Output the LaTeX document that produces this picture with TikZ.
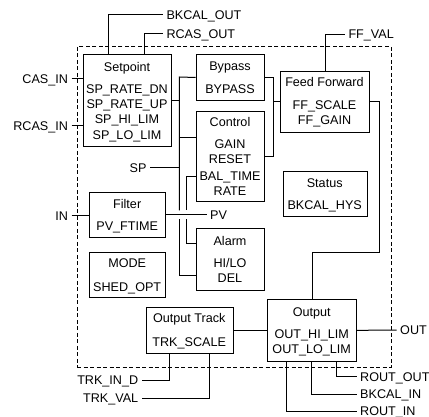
\documentclass[tikz,border=0pt]{standalone}
\usepackage{fontspec}
\setmainfont{Liberation Sans}
\newcommand\fsz{\fontsize{12.6}{15}\selectfont}
\tikzset{
  blk/.style={draw, line width=1pt, anchor=north west, inner sep=0pt},
  txt/.style={inner sep=0pt, text height=9pt, text depth=0pt, font=\fsz},
  lbl/.style={inner sep=0pt, outer xsep=3.5pt, text height=9pt, text depth=0pt, font=\fsz},
  wire/.style={line width=1pt}
}
\begin{document}
\begin{tikzpicture}[x=1pt,y=-1pt]
\useasboundingbox (0,0) rectangle (429,417);
% border
\node[draw, line width=1pt, dash pattern=on 4pt off 2.5pt, anchor=north west, inner sep=0pt,
  minimum width=314pt, minimum height=320.7pt] (border) at (76.7,46) {};
% blocks
\node[blk, minimum width=88.6pt, minimum height=92pt] (sp) at (82.7,54) {};
\node[blk, minimum width=68.6pt, minimum height=46pt] (bp) at (195.7,54) {};
\node[blk, minimum width=68.6pt, minimum height=90pt] (ctl) at (195.7,110.7) {};
\node[blk, minimum width=89pt, minimum height=61.6pt] (ff) at (280,70.7) {};
\node[blk, minimum width=84pt, minimum height=45pt] (st) at (282.7,170.7) {};
\node[blk, minimum width=75.7pt, minimum height=45pt] (fil) at (89.3,192.3) {};
\node[blk, minimum width=68.6pt, minimum height=61.7pt] (alm) at (195.7,228.3) {};
\node[blk, minimum width=75.7pt, minimum height=45pt] (mode) at (89.3,251.7) {};
\node[blk, minimum width=87pt, minimum height=46pt] (ot) at (145.7,306.7) {};
\node[blk, minimum width=88.7pt, minimum height=61.7pt] (out) at (267.3,299) {};
% block texts
\node[txt] (sp1) at (127,67) {Setpoint};
\node[txt] (sp2) at (127,89) {SP\_RATE\_DN};
\node[txt] (sp3) at (127,104) {SP\_RATE\_UP};
\node[txt] (sp4) at (127,119) {SP\_HI\_LIM};
\node[txt] (sp5) at (127,135) {SP\_LO\_LIM};
\node[txt] (bp1) at (230,65.7) {Bypass};
\node[txt] (bp2) at (230,89) {BYPASS};
\node[txt] (ct1) at (230,121.7) {Control};
\node[txt] (ct2) at (230,144) {GAIN};
\node[txt] (ct3) at (230,159) {RESET};
\node[txt] (ct4) at (230,175.7) {BAL\_TIME};
\node[txt] (ct5) at (230,191) {RATE};
\node[txt] (ff1) at (324.5,81.7) {Feed Forward};
\node[txt] (ff2) at (324.5,105.3) {FF\_SCALE};
\node[txt] (ff3) at (324.5,120) {FF\_GAIN};
\node[txt] (st1) at (324.7,182.7) {Status};
\node[txt] (st2) at (324.7,205) {BKCAL\_HYS};
\node[txt] (fi1) at (127.2,204.3) {Filter};
\node[txt] (fi2) at (127.2,225.7) {PV\_FTIME};
\node[txt] (al1) at (230,240.7) {Alarm};
\node[txt] (al2) at (230,263.3) {HI/LO};
\node[txt] (al3) at (230,278.3) {DEL};
\node[txt] (mo1) at (127.2,262.7) {MODE};
\node[txt] (mo2) at (127.2,286.7) {SHED\_OPT};
\node[txt] (ot1) at (189.2,318.3) {Output Track};
\node[txt] (ot2) at (189.2,341.7) {TRK\_SCALE};
\node[txt] (ou1) at (311.7,311.7) {Output};
\node[txt] (ou2) at (311.7,334) {OUT\_HI\_LIM};
\node[txt] (ou3) at (311.7,349) {OUT\_LO\_LIM};
% outside labels
\node[lbl, anchor=west] (bkcalout) at (163,15) {BKCAL\_OUT};
\node[lbl, anchor=west] (rcasout) at (163,34) {RCAS\_OUT};
\node[lbl, anchor=west] (ffval) at (345,34.3) {FF\_VAL};
\node[lbl, anchor=east] (casin) at (71.5,79) {CAS\_IN};
\node[lbl, anchor=east] (rcasin) at (71.5,126) {RCAS\_IN};
\node[lbl, anchor=east] (spl) at (150,168) {SP};
\node[lbl, anchor=east] (inl) at (71.5,215.7) {IN};
\node[lbl, anchor=west] (pvl) at (206.7,215) {PV};
\node[lbl, anchor=west] (outl) at (396.7,330) {OUT};
\node[lbl, anchor=west] (routout) at (356.7,376.7) {ROUT\_OUT};
\node[lbl, anchor=west] (bkcalin) at (356.7,394) {BKCAL\_IN};
\node[lbl, anchor=west] (routin) at (356.7,411) {ROUT\_IN};
\node[lbl, anchor=east] (trkind) at (141.7,380) {TRK\_IN\_D};
\node[lbl, anchor=east] (trkval) at (141.7,398.3) {TRK\_VAL};
% bus coordinates
\coordinate (a1) at (179.3,77);
\coordinate (a2) at (179.3,210.5);
\coordinate (a3) at (179.3,219.5);
\coordinate (b1) at (186.7,210.5);
\coordinate (b2) at (186.7,219.5);
\coordinate (c1) at ([yshift=19pt]ctl.west);
\coordinate (c2) at ([yshift=-20pt]ctl.west);
\coordinate (d1) at ([yshift=15.7pt]alm.west);
\coordinate (d2) at ([yshift=-16pt]alm.west);
\coordinate (k1) at (379,252.3);
% connectors
\draw[wire] ([xshift=25.3pt]sp.north west) |- (bkcalout.west);
\draw[wire] ([xshift=61.3pt]sp.north west) |- (rcasout.west);
\draw[wire] ([xshift=45pt]ff.north west) |- (ffval.west);
\draw[wire] (casin.east) -- (casin.east -| sp.west);
\draw[wire] (rcasin.east) -- (rcasin.east -| sp.west);
\draw[wire] (inl.east) -- (inl.east -| fil.west);
\draw[wire] (fil.east |- pvl.west) -- (pvl.west);
\draw[wire] (bp.west) -- (a1) -- (a2);
\draw[wire] (a3) |- (d2);
\draw[wire] (sp.east) -- (sp.east -| a1);
\draw[wire] (c1) -- (c1 -| a1);
\draw[wire] (spl.east) -- (spl.east -| a1);
\draw[wire] (c2) -| (b1);
\draw[wire] (b2) |- (d1);
\draw[wire] (bp.east) -- ++(8.4,0) |- (ctl.east);
\draw[wire] (ff.west) -- ++(-7.3,0);
\draw[wire] (ff.east) -| (k1) -| (out.north);
\draw[wire] (ot.east) -- (ot.east -| out.west);
\draw[wire] (out.east) -- (outl.west);
\draw[wire] ([xshift=69.4pt]out.south west) |- (routout.west);
\draw[wire] ([xshift=43.7pt]out.south west) |- (bkcalin.west);
\draw[wire] ([xshift=19.4pt]out.south west) |- (routin.west);
\draw[wire] ([xshift=23.6pt]ot.south west) |- (trkind.east);
\draw[wire] ([xshift=63.3pt]ot.south west) |- (trkval.east);
\end{tikzpicture}
\end{document}
